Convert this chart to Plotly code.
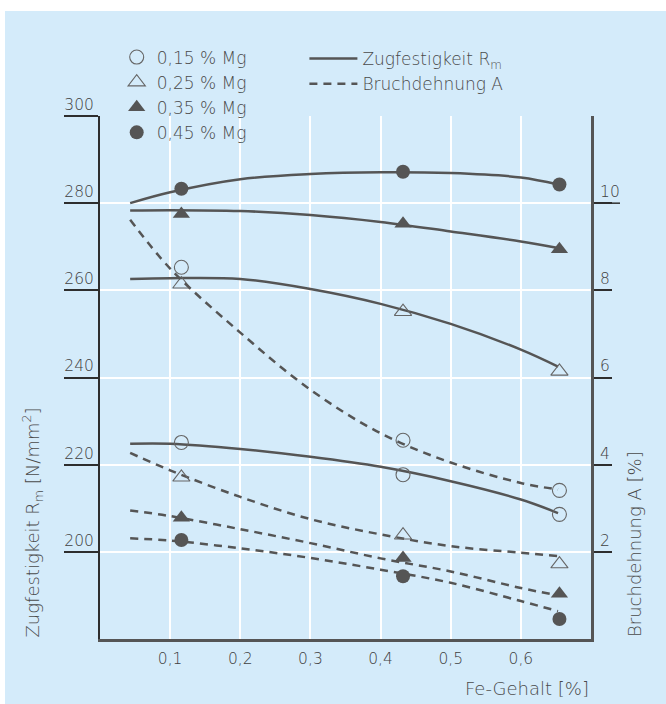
import plotly.graph_objects as go

# ---------------- data ----------------
FE_MARK = [0.116, 0.432, 0.655]          # Fe-Gehalt of the measured points [%]
CURVE_X = [0.043, 0.1, 0.2, 0.3, 0.4, 0.5, 0.6, 0.653]

MG_NAMES = ["0,15 % Mg", "0,25 % Mg", "0,35 % Mg", "0,45 % Mg"]

# Zugfestigkeit Rm measured points [N/mm2]
RM_015 = [225.1, 217.7, 208.6]
RM_025 = [261.4, 255.1, 241.4]
RM_035 = [277.5, 275.3, 269.4]
RM_045 = [283.3, 287.2, 284.3]

# Bruchdehnung A measured points [%]
A_015 = [8.53, 4.56, 3.41]
A_025 = [3.71, 2.38, 1.72]
A_035 = [2.78, 1.86, 1.04]
A_045 = [2.27, 1.44, 0.46]

# fitted curves (read along CURVE_X)
RM_015_CURVE = [224.8, 224.8, 223.6, 221.8, 219.5, 216.2, 212.0, 208.9]
RM_025_CURVE = [262.6, 262.8, 262.6, 260.3, 256.9, 252.3, 246.4, 242.5]
RM_035_CURVE = [278.3, 278.4, 278.2, 277.3, 275.7, 273.5, 271.2, 269.7]
RM_045_CURVE = [280.0, 282.5, 285.5, 286.7, 287.1, 286.9, 285.9, 284.3]

A_015_CURVE = [9.62, 8.50, 7.03, 5.72, 4.72, 4.05, 3.58, 3.43]
A_025_CURVE = [4.27, 3.87, 3.26, 2.75, 2.40, 2.13, 1.98, 1.90]
A_035_CURVE = [2.95, 2.82, 2.52, 2.20, 1.85, 1.55, 1.17, 1.00]
A_045_CURVE = [2.31, 2.26, 2.08, 1.86, 1.59, 1.29, 0.87, 0.64]

FE_TICKS = [0.1, 0.2, 0.3, 0.4, 0.5, 0.6]
FE_TICKTEXT = ["0,1", "0,2", "0,3", "0,4", "0,5", "0,6"]
RM_TICKS = [200, 220, 240, 260, 280, 300]
A_TICKS = [2, 4, 6, 8, 10]

LINE_NAMES = ["Zugfestigkeit R<sub>m</sub>", "Bruchdehnung A"]

# ---------------- styling ----------------
BG = "#d4ebfa"
INK = "#555555"
TXT = "#4a4a4a"
TICK_TXT = "#404040"
FONT = "DejaVu Sans"
W, H = 666, 704
ML, MR, MT, MB = 100, 75, 116, 65
PW, PH = W - ML - MR, H - MT - MB

def px_x(px):
    return (px - ML) / PW

def px_y(py):
    return (H - MB - py) / PH

symbols = ["circle-open", "triangle-up-open", "triangle-up", "circle"]
msizes = [14, 15, 15, 14]
rm_pts = [RM_015, RM_025, RM_035, RM_045]
a_pts = [A_015, A_025, A_035, A_045]
rm_curves = [RM_015_CURVE, RM_025_CURVE, RM_035_CURVE, RM_045_CURVE]
a_curves = [A_015_CURVE, A_025_CURVE, A_035_CURVE, A_045_CURVE]

fig = go.Figure()

line_style = dict(color=INK, width=2.5, shape="spline", smoothing=1.0)
for rc in rm_curves:
    fig.add_trace(go.Scatter(x=CURVE_X, y=rc, mode="lines", yaxis="y",
                             line=line_style, showlegend=False, hoverinfo="skip"))
for ac in a_curves:
    fig.add_trace(go.Scatter(x=CURVE_X, y=ac, mode="lines", yaxis="y2",
                             line=dict(line_style, dash="8px,6px"),
                             showlegend=False, hoverinfo="skip"))

for i in range(4):
    filled = not symbols[i].endswith("open")
    mk = dict(symbol=symbols[i], size=msizes[i],
              color=INK if filled else "#666666",
              line=dict(width=0 if filled else 1.1, color="#666666"))
    fig.add_trace(go.Scatter(x=FE_MARK, y=rm_pts[i], mode="markers", yaxis="y",
                             marker=mk, name=MG_NAMES[i], legend="legend",
                             showlegend=True))
    fig.add_trace(go.Scatter(x=FE_MARK, y=a_pts[i], mode="markers", yaxis="y2",
                             marker=mk, showlegend=False))

# line-style legend entries
fig.add_trace(go.Scatter(x=[None], y=[None], mode="lines", name=LINE_NAMES[0],
                         line=dict(color=INK, width=2.5), legend="legend2"))
fig.add_trace(go.Scatter(x=[None], y=[None], mode="lines", name=LINE_NAMES[1],
                         line=dict(color=INK, width=2.5, dash="8px,6px"),
                         legend="legend2"))

fig.update_layout(
    width=W, height=H,
    margin=dict(l=ML, r=MR, t=MT, b=MB, pad=0),
    paper_bgcolor=BG, plot_bgcolor=BG,
    font=dict(family=FONT, size=15, color=TXT, weight=300),
    xaxis=dict(range=[0, 0.7], tickvals=FE_TICKS, ticktext=FE_TICKTEXT,
               showgrid=True, gridcolor="white", gridwidth=1.5,
               zeroline=False, showline=True, linecolor=INK, linewidth=3,
               ticks="outside", ticklen=3, tickcolor="rgba(0,0,0,0)",
               tickfont=dict(size=15.5, color=TICK_TXT)),
    yaxis=dict(range=[180, 300], tickvals=RM_TICKS,
               showgrid=False, zeroline=False,
               showline=True, linecolor="#2e2e2e", linewidth=2,
               ticks="outside", ticklen=34, tickwidth=1.5, tickcolor="#2e2e2e",
               ticklabelposition="outside top", ticklabelstandoff=1,
               tickfont=dict(size=15.5, color=TICK_TXT)),
    yaxis2=dict(range=[0, 12], tickvals=A_TICKS, overlaying="y", side="right",
                showgrid=True, gridcolor="white", gridwidth=1.5, zeroline=False,
                showline=True, linecolor=INK, linewidth=3,
                ticks="outside", ticklen=18, tickwidth=1.5, tickcolor="#2e2e2e",
                ticklabelposition="outside top", ticklabelstandoff=3,
                tickfont=dict(size=15.5, color=TICK_TXT)),
    legend=dict(x=px_x(116.7), y=px_y(39.5), xanchor="left", yanchor="top",
                xref="paper", yref="paper", bgcolor="rgba(0,0,0,0)",
                borderwidth=0, font=dict(size=17, color=TXT)),
    legend2=dict(x=px_x(304.4), y=px_y(41), xanchor="left", yanchor="top",
                 xref="paper", yref="paper", bgcolor="rgba(0,0,0,0)",
                 borderwidth=0, itemwidth=48, font=dict(size=17, color=TXT)),
    showlegend=True,
)

# white strips of the page around the blue panel
fig.add_shape(type="rect", xref="paper", yref="paper", layer="below",
              x0=px_x(0), x1=px_x(W), y0=px_y(11), y1=px_y(0),
              fillcolor="white", line=dict(width=0))
fig.add_shape(type="rect", xref="paper", yref="paper", layer="below",
              x0=px_x(0), x1=px_x(5), y0=px_y(H), y1=px_y(0),
              fillcolor="white", line=dict(width=0))
# longer underline for the two-digit label "10"
fig.add_shape(type="line", xref="paper", yref="y2",
              x0=px_x(608), x1=px_x(620), y0=A_TICKS[-1], y1=A_TICKS[-1],
              line=dict(color="#2e2e2e", width=1.5))

fig.add_annotation(text="Fe-Gehalt [%]", xref="paper", yref="paper",
                   x=1, y=px_y(688), xanchor="right", yanchor="middle",
                   showarrow=False, font=dict(size=18, color=TXT))
fig.add_annotation(text="Zugfestigkeit R<sub>m</sub> [N/mm<sup>2</sup>]",
                   xref="paper", yref="paper", x=px_x(32), y=px_y(522.5),
                   xanchor="center", yanchor="middle", textangle=-90,
                   showarrow=False, font=dict(size=18, color=TXT))
fig.add_annotation(text="Bruchdehnung A [%]",
                   xref="paper", yref="paper", x=px_x(634), y=px_y(544),
                   xanchor="center", yanchor="middle", textangle=-90,
                   showarrow=False, font=dict(size=18, color=TXT))

fig.write_html("out.html",
               config={"displayModeBar": False},
               post_script="document.body.style.margin='0px';"
                           "document.body.style.overflow='hidden';")
